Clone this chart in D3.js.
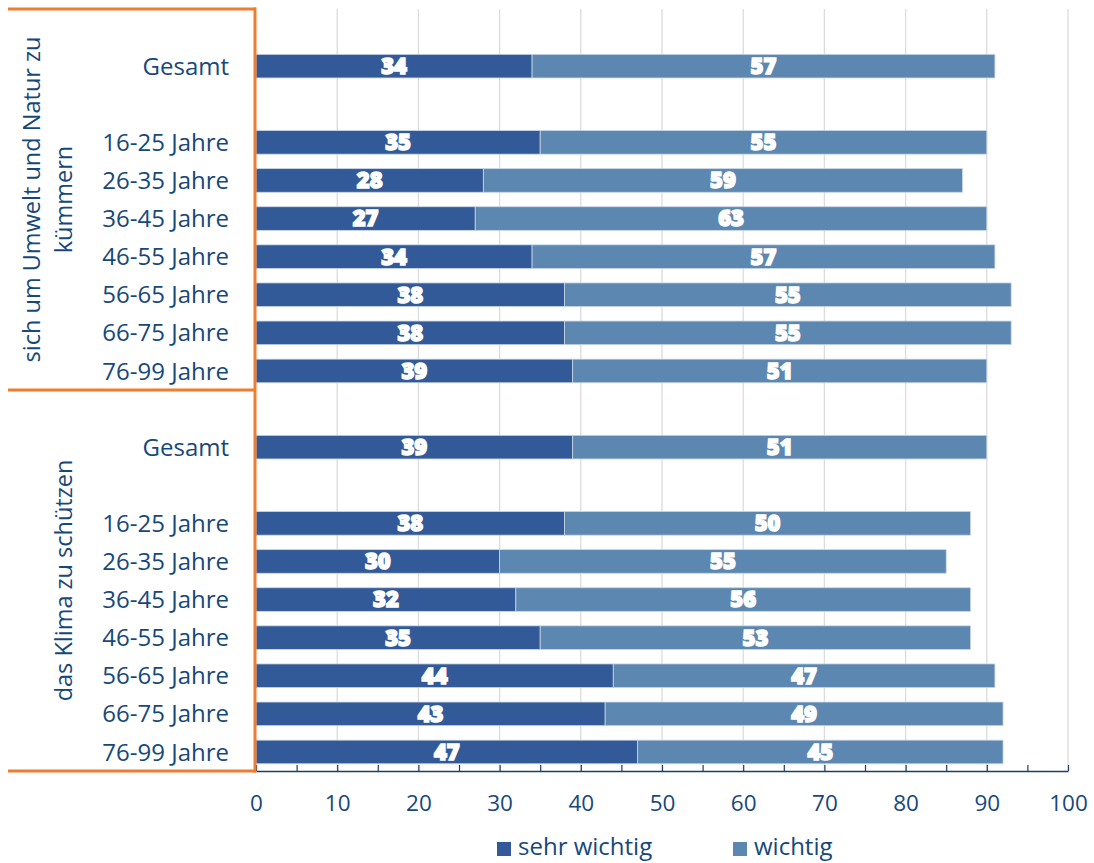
<!DOCTYPE html>
<html lang="de">
<head>
<meta charset="utf-8">
<script src="https://cdn.jsdelivr.net/npm/d3@7"></script>
<style>
  html, body { margin: 0; padding: 0; background: #ffffff; }
  svg { display: block; }
  text { font-family: "Open Sans", "Noto Sans", sans-serif; }
</style>
</head>
<body>
<svg id="chart" width="1094" height="863"></svg>
<script>
// Question groups (left bracket labels, one array of lines each)
const groupLabels = [
  ["sich um Umwelt und Natur zu", "kümmern"],
  ["das Klima zu schützen"]
];
// Rows inside each group; "" marks an empty spacer row
const rowLabels = ["", "Gesamt", "", "16-25 Jahre", "26-35 Jahre", "36-45 Jahre",
                   "46-55 Jahre", "56-65 Jahre", "66-75 Jahre", "76-99 Jahre"];
// Series values, percent (aligned with the non-empty rows)
const sehrWichtigUmwelt = [34, 35, 28, 27, 34, 38, 38, 39];
const wichtigUmwelt     = [57, 55, 59, 63, 57, 55, 55, 51];
const sehrWichtigKlima  = [39, 38, 30, 32, 35, 44, 43, 47];
const wichtigKlima      = [51, 50, 55, 56, 53, 47, 49, 45];
const seriesNames = ["sehr wichtig", "wichtig"];
const xTicks = [0, 10, 20, 30, 40, 50, 60, 70, 80, 90, 100];

const colors = { "sehr wichtig": "#335a98", "wichtig": "#5c87b1" };
const textColor = "#17487a";
const axisColor = "#1c3d6b";
const bracketColor = "#ed7d31";

const svg = d3.select("#chart");
const plotLeft = 256, plotRight = 1068, plotTop = 9, plotBottom = 771;

// Build the row list: 10 slots per group
const seriesByGroup = [
  [sehrWichtigUmwelt, wichtigUmwelt],
  [sehrWichtigKlima, wichtigKlima]
];
const rows = [];
groupLabels.forEach((g, gi) => {
  let k = 0;
  rowLabels.forEach((lab, ri) => {
    const row = { key: gi + "|" + ri, group: gi, label: lab, values: null };
    if (lab !== "") {
      row.values = [seriesByGroup[gi][0][k], seriesByGroup[gi][1][k]];
      k++;
    }
    rows.push(row);
  });
});

const x = d3.scaleLinear().domain([0, 100]).range([plotLeft, plotRight]);
const y = d3.scaleBand().domain(rows.map(r => r.key)).range([plotTop, plotBottom])
  .paddingInner(0.38).paddingOuter(0.19);

// Vertical gridlines
svg.append("g").selectAll("line")
  .data(xTicks.filter(t => t > 0))
  .join("line")
  .attr("x1", d => x(d)).attr("x2", d => x(d))
  .attr("y1", plotTop).attr("y2", plotBottom)
  .attr("stroke", "#dcdcdc").attr("stroke-width", 1.3);

// Stacked bars
const segs = [];
rows.filter(r => r.values).forEach(r => {
  let acc = 0;
  r.values.forEach((v, si) => {
    segs.push({ row: r, series: seriesNames[si], x0: acc, x1: acc + v, value: v });
    acc += v;
  });
});

svg.append("g").selectAll("rect")
  .data(segs)
  .join("rect")
  .attr("x", d => x(d.x0))
  .attr("y", d => y(d.row.key))
  .attr("width", d => x(d.x1) - x(d.x0))
  .attr("height", y.bandwidth())
  .attr("fill", d => colors[d.series])
  .attr("stroke", "#c9d6e6").attr("stroke-width", 0.8);

// Value labels
svg.append("g").selectAll("text")
  .data(segs)
  .join("text")
  .attr("x", d => (x(d.x0) + x(d.x1)) / 2)
  .attr("y", d => y(d.row.key) + y.bandwidth() / 2)
  .attr("dy", "0.36em")
  .attr("text-anchor", "middle")
  .attr("fill", "#ffffff")
  .attr("stroke", "#ffffff").attr("stroke-width", 1.5)
  .style("font-size", "22px").style("font-weight", 800)
  .text(d => d.value);

// Row labels
svg.append("g").selectAll("text")
  .data(rows.filter(r => r.label !== ""))
  .join("text")
  .attr("x", 229)
  .attr("y", d => y(d.key) + y.bandwidth() / 2)
  .attr("dy", "0.36em")
  .attr("text-anchor", "end")
  .attr("fill", textColor)
  .style("font-size", "24px")
  .text(d => d.label);

// Bottom axis with minor ticks every 5
const axis = d3.axisBottom(x)
  .tickValues(d3.range(0, 101, 5))
  .tickSize(-6).tickSizeOuter(0).tickPadding(24)
  .tickFormat(d => d % 10 === 0 ? d : "");
const ax = svg.append("g").attr("transform", `translate(0,${plotBottom})`).call(axis);
ax.select(".domain").attr("stroke", axisColor).attr("stroke-width", 1.5);
ax.selectAll(".tick line").attr("stroke", axisColor).attr("stroke-width", 1.2);
ax.selectAll(".tick text").attr("fill", textColor)
  .style("font-size", "22.5px").style("font-family", "'Open Sans', sans-serif");

// Group bracket
const groupEdges = [plotTop, (y(rows[9].key) + y.bandwidth() + y(rows[10].key)) / 2, plotBottom];
const br = svg.append("g").attr("stroke", bracketColor).attr("stroke-width", 3).attr("fill", "none");
groupEdges.forEach(yy => {
  br.append("line").attr("x1", 8).attr("x2", 256).attr("y1", yy).attr("y2", yy);
});
br.append("line").attr("x1", 255).attr("x2", 255).attr("y1", plotTop - 1.5).attr("y2", plotBottom + 1.5);

// Rotated group labels
groupLabels.forEach((lines, gi) => {
  const cy = (groupEdges[gi] + groupEdges[gi + 1]) / 2;
  const baseX = lines.length === 2 ? 40 : 72;
  const t = svg.append("text")
    .attr("transform", `translate(${baseX},${cy}) rotate(-90)`)
    .attr("text-anchor", "middle")
    .attr("fill", textColor)
    .style("font-size", "23.5px");
  lines.forEach((ln, i) => {
    t.append("tspan").attr("x", 0).attr("y", i * 32).text(ln);
  });
});

// Legend
const legend = svg.append("g");
const legendX = [497, 733];
seriesNames.forEach((s, i) => {
  legend.append("rect").attr("x", legendX[i]).attr("y", 842).attr("width", 14).attr("height", 14)
    .attr("fill", colors[s]);
  legend.append("text").attr("x", legendX[i] + 21).attr("y", 855)
    .attr("fill", textColor).style("font-size", "24px").text(s);
});
</script>
</body>
</html>
